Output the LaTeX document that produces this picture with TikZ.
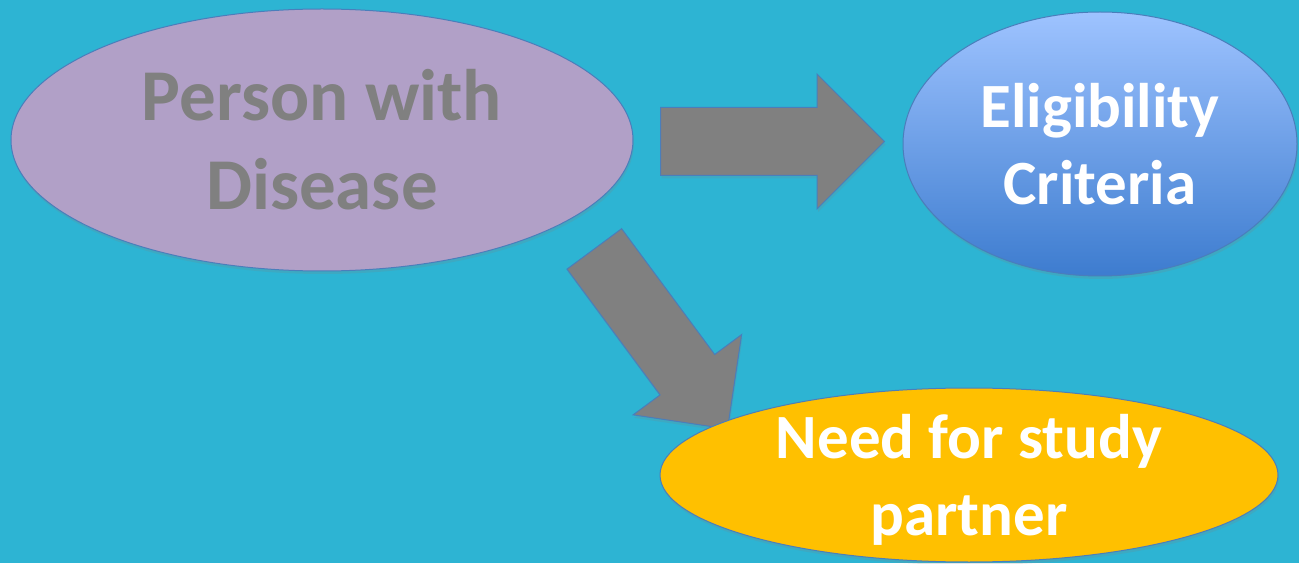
\documentclass[tikz,border=0pt]{standalone}
\usepackage{fontspec}
\setmainfont{Carlito}
\usetikzlibrary{shapes.geometric,shapes.arrows,shadows}

\definecolor{bgteal}{HTML}{2DB4D3}
\definecolor{lavender}{HTML}{B1A0C7}
\definecolor{textgray}{HTML}{808080}
\definecolor{arrowgray}{HTML}{808080}
\definecolor{edgeblue}{HTML}{4A7EBB}
\definecolor{eligtop}{HTML}{9EC3FF}
\definecolor{eligbot}{HTML}{3D7CCF}
\definecolor{partnerorange}{HTML}{FFC000}

\begin{document}
\begin{tikzpicture}[x=1pt,y=1pt,
  bubble/.style={ellipse,draw=edgeblue,line width=1pt,inner sep=0pt,align=center,
    drop shadow={shadow xshift=1pt,shadow yshift=-3pt,opacity=0.2}},
  bigtext/.style={font=\bfseries\fontsize{73}{89}\selectfont},
  midtext/.style={font=\bfseries\fontsize{63}{77}\selectfont,text=white},
  blockarrow/.style={single arrow,draw=edgeblue,line width=1pt,fill=arrowgray,
    inner xsep=0pt,inner ysep=33.5pt,minimum height=224pt,single arrow head extend=33.5pt,anchor=tail,
    drop shadow={shadow xshift=1pt,shadow yshift=-3pt,opacity=0.2}}]
\path[use as bounding box,fill=bgteal] (0,0) rectangle (1299,563);
% the three bubbles
\node[bubble,bigtext,fill=lavender,text=textgray,minimum width=622pt,minimum height=262pt] (pwd) at (322,423) {Person with\\Disease};
\node[bubble,midtext,top color=eligtop,bottom color=eligbot,minimum width=394pt,minimum height=264pt] (elig) at (1100,419) {Eligibility\\Criteria};
% block arrows
\node[blockarrow] (toelig) at (660,421.5) {};
\node[blockarrow,rotate=-53.5] (topartner) at (594,314.5) {};
% drawn last, it covers the tip of the lower arrow
\node[bubble,midtext,fill=partnerorange,text depth=0pt,minimum width=618pt,minimum height=174pt] (partner) at (969,88) {Need for study\\partner};
\end{tikzpicture}
\end{document}
